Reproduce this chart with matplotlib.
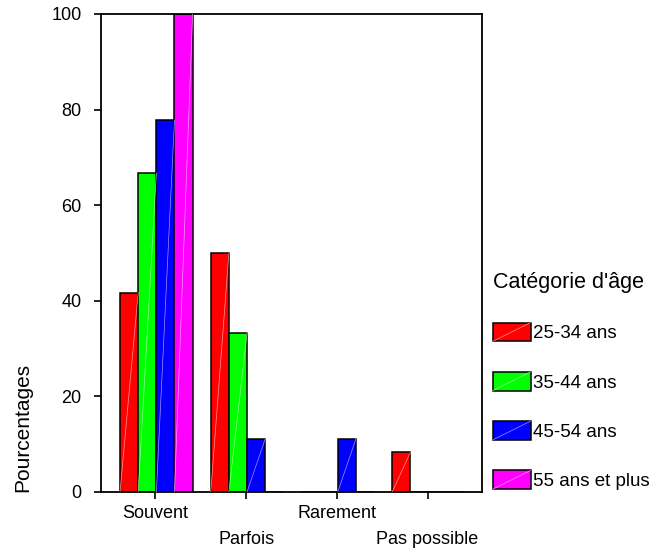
import matplotlib
matplotlib.use("Agg")
import matplotlib.pyplot as plt
import matplotlib.patches as mpatches
from matplotlib.legend_handler import HandlerBase
from matplotlib.lines import Line2D
import numpy as np

# data
categories = ["Souvent", "Parfois", "Rarement", "Pas possible"]
groups = ["25-34 ans", "35-44 ans", "45-54 ans", "55 ans et plus"]
pct_25_34 = [41.7, 50.0, 0, 8.3]
pct_35_44 = [66.7, 33.3, 0, 0]
pct_45_54 = [77.8, 11.1, 11.1, 0]
pct_55_plus = [100.0, 0, 0, 0]
series = [pct_25_34, pct_35_44, pct_45_54, pct_55_plus]
colors = ["#ff0000", "#00ff00", "#0000ff", "#ff00ff"]
diag_colors = ["#ff9999", "#99ff99", "#9999ff", "#ff99ff"]

plt.rcParams["font.family"] = ["Liberation Sans", "DejaVu Sans"]

fig = plt.figure(figsize=(6.5, 5.52), dpi=100)
ax = fig.add_axes([101 / 650, 60 / 552, 381 / 650, 478 / 552])

x = np.arange(len(categories))
w = 0.2
for i, (vals, c, dc) in enumerate(zip(series, colors, diag_colors)):
    bars = ax.bar(x + (i - 1.5) * w + 0.01, vals, w, color=c, edgecolor="black",
                  linewidth=1.1, label=groups[i], zorder=2)
    # thin diagonal stroke inside each bar
    for b in bars:
        if b.get_height() <= 0:
            continue
        x0, y0 = b.get_x(), b.get_y()
        ax.plot([x0, x0 + b.get_width()], [y0, y0 + b.get_height()],
                color=dc, lw=0.5, zorder=3)

ax.set_xlim(-0.6, 3.6)
ax.set_ylim(0, 100)
ax.set_yticks([0, 20, 40, 60, 80, 100])
ax.set_xticks(x)
# staggered category labels
ax.set_xticklabels([c if k % 2 == 0 else "\n" + c for k, c in enumerate(categories)])
for lab in ax.get_xticklabels():
    lab.set_linespacing(1.75)
ax.tick_params(axis="both", labelsize=13, length=5, width=1.2, direction="out")
ax.tick_params(axis="y", pad=9)
ax.tick_params(axis="x", pad=4)
for s in ax.spines.values():
    s.set_linewidth(1.3)

fig.text(23 / 650, 60 / 552, "Pourcentages", rotation=90, ha="center",
         va="bottom", fontsize=15)


class DiagHandler(HandlerBase):
    def __init__(self, dc):
        super().__init__()
        self.dc = dc

    def create_artists(self, legend, orig_handle, xdescent, ydescent, width,
                       height, fontsize, trans):
        fc = orig_handle.patches[0].get_facecolor()
        r = mpatches.Rectangle((-xdescent, -ydescent), width, height,
                               facecolor=fc, edgecolor="black", lw=1.1,
                               transform=trans)
        ln = Line2D([-xdescent, -xdescent + width], [-ydescent, -ydescent + height],
                    color=self.dc, lw=0.5, transform=trans)
        return [r, ln]


handles, labels = ax.get_legend_handles_labels()
hmap = {h: DiagHandler(dc) for h, dc in zip(handles, diag_colors)}
leg = fig.legend(handles, labels, handler_map=hmap, title="Catégorie d'âge",
                 loc="upper left", bbox_to_anchor=(493 / 650, 1 - 272 / 552),
                 frameon=False, fontsize=13.5, title_fontsize=15.5,
                 borderpad=0, borderaxespad=0, handlelength=2.0,
                 handleheight=1.15, labelspacing=1.58, handletextpad=0.15,
                 alignment="left")

fig.savefig("out.png", dpi=100, facecolor="white")
